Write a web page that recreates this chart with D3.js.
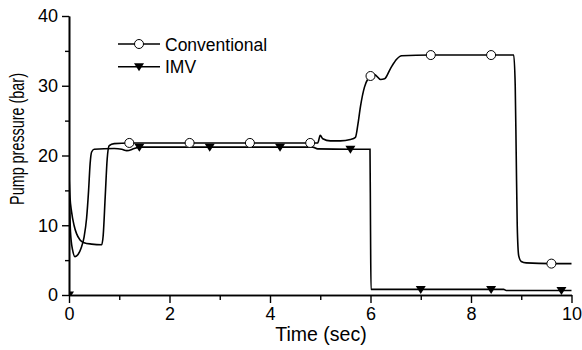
<!DOCTYPE html>
<html>
<head>
<meta charset="utf-8">
<script src="https://cdn.jsdelivr.net/npm/d3@7"></script>
<style>
  body { margin: 0; background: #fff; }
  text { font-family: "Liberation Sans", Arial, sans-serif; fill: #000; }
</style>
</head>
<body>
<svg id="chart" width="582" height="350"></svg>
<script>
// --- data ---
const convTime = [0, 0.02, 0.05, 0.1, 0.15, 0.22, 0.3, 0.45, 0.65, 0.68, 0.72, 0.76, 0.8, 0.9, 1.2, 2.4, 3.6, 4.8, 4.95, 5.0, 5.05, 5.2, 5.4, 5.6, 5.7, 5.75, 5.8, 5.88, 5.95, 6.0, 6.08, 6.2, 6.28, 6.4, 6.52, 6.62, 7.2, 8.4, 8.85, 8.88, 8.9, 8.92, 8.95, 9.0, 9.1, 9.6, 10];
const convPressure = [17.3, 14, 12, 10, 8.8, 7.9, 7.5, 7.3, 7.2, 8.5, 14, 19.5, 21.4, 21.7, 21.8, 21.8, 21.8, 21.8, 21.8, 22.9, 22.4, 22.1, 22.1, 22.3, 22.6, 24.5, 27, 29.8, 31, 31.4, 31.6, 30.9, 31.0, 32.5, 33.8, 34.3, 34.4, 34.4, 34.4, 30, 20, 10, 5.6, 4.8, 4.6, 4.5, 4.5];
const convMarkers = [1.2, 2.4, 3.6, 4.8, 6.0, 7.2, 8.4, 9.6];

const imvTime = [0, 0.004, 0.03, 0.07, 0.12, 0.18, 0.24, 0.3, 0.35, 0.39, 0.42, 0.45, 0.5, 0.9, 1.05, 1.15, 1.3, 1.4, 2.8, 4.2, 4.85, 4.95, 5.6, 5.99, 6.0, 6.01, 7.0, 8.4, 8.65, 8.7, 9.8, 10];
const imvPressure = [0, 13.5, 9, 6.5, 5.5, 5.8, 6.7, 8.3, 11, 15, 18.8, 20.5, 20.9, 21.0, 20.9, 20.7, 21.0, 21.2, 21.2, 21.2, 21.2, 20.95, 20.9, 20.9, 10, 0.8, 0.8, 0.8, 0.8, 0.65, 0.65, 0.65];
const imvMarkers = [0, 1.4, 2.8, 4.2, 5.6, 7.0, 8.4, 9.8];

const xMajorTicks = [0, 2, 4, 6, 8, 10];
const xMinorTicks = [1, 3, 5, 7, 9];
const yMajorTicks = [0, 10, 20, 30, 40];
const yMinorTicks = [5, 15, 25, 35];

const seriesNames = ["Conventional", "IMV"];

// --- layout ---
const svg = d3.select("#chart");
const margin = { top: 16, right: 10, bottom: 55, left: 69 };
const height = 350 - margin.top - margin.bottom;

const x = d3.scaleLinear().domain([0, 10]).range([0, 502.5]);
const y = d3.scaleLinear().domain([0, 40]).range([height, 0]);

const g = svg.append("g").attr("transform", `translate(${margin.left},${margin.top})`);

g.append("clipPath").attr("id", "plot-clip")
  .append("rect").attr("x", 0).attr("y", -5).attr("width", x(10) + 5).attr("height", height + 5);

const toPoints = (ts, vs) => ts.map((t, i) => ({ t, v: vs[i] }));
const conv = toPoints(convTime, convPressure);
const imv = toPoints(imvTime, imvPressure);

const line = d3.line().x(d => x(d.t)).y(d => y(d.v)).curve(d3.curveMonotoneX);

const plot = g.append("g").attr("clip-path", "url(#plot-clip)");

[conv, imv].forEach(data => {
  plot.append("path")
    .datum(data)
    .attr("fill", "none")
    .attr("stroke", "#000")
    .attr("stroke-width", 1.6)
    .attr("d", line);
});

const triangle = "M-5,-3.5L5,-3.5L0,4.5Z";

plot.selectAll(".imv-marker")
  .data(imv.filter(d => imvMarkers.includes(d.t)))
  .join("path")
    .attr("class", "imv-marker")
    .attr("transform", d => `translate(${x(d.t)},${y(d.v)})`)
    .attr("d", triangle)
    .attr("fill", "#000");

plot.selectAll(".conv-marker")
  .data(conv.filter(d => convMarkers.includes(d.t)))
  .join("circle")
    .attr("class", "conv-marker")
    .attr("cx", d => x(d.t))
    .attr("cy", d => y(d.v))
    .attr("r", 4.5)
    .attr("fill", "#fff")
    .attr("stroke", "#000")
    .attr("stroke-width", 1);

// --- axes ---
const styleAxis = sel => {
  sel.select(".domain").attr("stroke-width", 1.6);
  sel.selectAll(".tick line").attr("stroke-width", 1.4);
  sel.selectAll(".tick text").style("font-size", "18px").style("font-family", '"Liberation Sans", Arial, sans-serif');
};

g.append("g")
  .call(d3.axisLeft(y).tickValues(yMinorTicks).tickSize(4).tickSizeOuter(0).tickFormat(""))
  .call(styleAxis);
g.append("g")
  .call(d3.axisLeft(y).tickValues(yMajorTicks).tickSize(7).tickSizeOuter(0).tickPadding(4))
  .call(styleAxis);

g.append("g").attr("transform", `translate(0,${height})`)
  .call(d3.axisBottom(x).tickValues(xMinorTicks).tickSize(5).tickSizeOuter(0).tickFormat(""))
  .call(styleAxis);
g.append("g").attr("transform", `translate(0,${height})`)
  .call(d3.axisBottom(x).tickValues(xMajorTicks).tickSize(8).tickSizeOuter(0).tickPadding(4))
  .call(styleAxis);

g.append("text")
  .attr("x", 252).attr("y", height + 46)
  .attr("text-anchor", "middle")
  .style("font-size", "19.5px")
  .text("Time (sec)");

// y title is squeezed along its length in the original, so scale it to fit
const yTitle = g.append("text")
  .attr("text-anchor", "middle")
  .style("font-size", "20px")
  .text("Pump pressure (bar)");
const squeeze = 132 / yTitle.node().getComputedTextLength();
yTitle.attr("transform", `translate(${24 - margin.left},${139 - margin.top}) rotate(-90) scale(${squeeze},1)`);

// --- legend ---
const legend = g.append("g").attr("transform", "translate(49,28)");
seriesNames.forEach((name, i) => {
  const row = legend.append("g").attr("transform", `translate(0,${i * 22.7})`);
  row.append("line").attr("x1", 0).attr("x2", 42).attr("stroke", "#000").attr("stroke-width", 1.6);
  if (i === 0) {
    row.append("circle").attr("cx", 21).attr("r", 4.5).attr("fill", "#fff").attr("stroke", "#000");
  } else {
    row.append("path").attr("transform", "translate(21,0)").attr("d", triangle).attr("fill", "#000");
  }
  row.append("text").attr("x", 47).attr("y", 6.5).style("font-size", "17.5px").text(name);
});
</script>
</body>
</html>
